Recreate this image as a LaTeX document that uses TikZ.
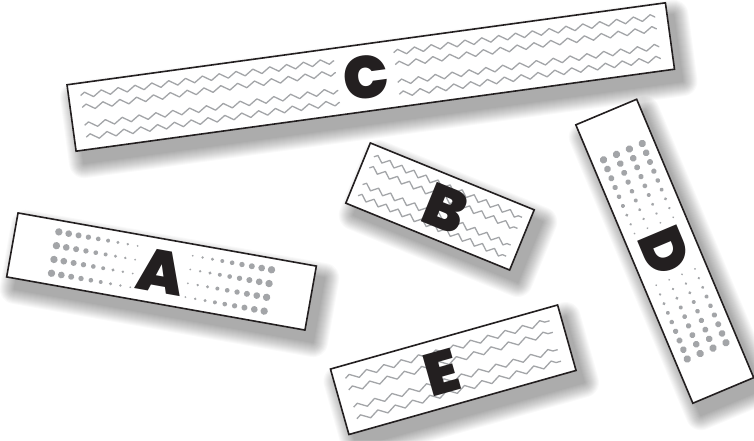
\documentclass[tikz,border=0pt]{standalone}
\usepackage{fontspec}
\newfontfamily\letterfont{Poppins Black}
\usetikzlibrary{decorations.pathmorphing}
\definecolor{inkgray}{HTML}{A3A5A8}
\definecolor{inkblack}{HTML}{231F20}
\tikzset{
  stripbox/.style={fill=white,draw=inkblack,line width=1.6pt},
  shadowlayer/.style={fill=black,opacity=.024},
  zigline/.style={draw=inkgray,line width=1.3pt,line join=round,decorate,
    decoration={zigzag,segment length=#1,amplitude=2.8pt}},
  letter/.style={font=\letterfont\fontsize{60}{60}\selectfont,text=inkblack,
    inner sep=0pt,transform shape}
}
% soft shadow and white strip: centre x, centre y, angle, length, height
\newcommand{\stripbase}[5]{%
  \begin{scope}[shift={(#1+8,#2-12)},rotate=#3]
    \foreach \k in {1,...,15}
      \fill[shadowlayer,rounded corners=\k pt] (-#4/2-\k,-#5/2-\k) rectangle (#4/2+\k,#5/2+\k);
  \end{scope}
  \path[stripbox,shift={(#1,#2)},rotate=#3] (-#4/2,-#5/2) rectangle (#4/2,#5/2);}
% halftone dots, large at both ends
\newcommand{\halftone}{%
  \foreach \i in {0,...,8} {
    \pgfmathsetmacro{\rad}{3.7-0.34*\i}
    \foreach \y in {21,7,-7,-21} {
      \fill[inkgray] (-108+10*\i,\y) circle (\rad);
      \fill[inkgray] (108-10*\i,\y) circle (\rad);
    }}}
\begin{document}
\begin{tikzpicture}[x=1pt,y=1pt]
    \useasboundingbox (0,0) rectangle (754,440);
    \fill[white] (0,0) rectangle (754,440);
    % strip C
    \stripbase{370.75}{363}{7.8}{604}{67}
    \begin{scope}[shift={(370.75,363)},rotate=7.8]
        \foreach \y in {21,9,-9,-21} {
            \draw[zigline=17pt] (-290,\y) -- (-34,\y);
            \draw[zigline=17pt] (26,\y) -- (290,\y);
        }
        \node[letter] (C) at (-5,0) {C};
    \end{scope}
    % strip B
    \stripbase{440}{233.5}{-22.2}{177}{65}
    \begin{scope}[shift={(440,233.5)},rotate=-22.2]
        \foreach \y in {21,9,-9,-21}
            \draw[zigline=13pt] (-80,\y) -- (80,\y);
        \node[letter] (B) at (6,0) {B};
    \end{scope}
    % strip A
    \stripbase{161.5}{168.5}{-10.1}{303}{65}
    \begin{scope}[shift={(161.5,168.5)},rotate=-10.1]
        \halftone
        \node[letter] (A) at (0,0) {A};
    \end{scope}
    % strip E
    \stripbase{453.25}{70.25}{15.75}{236}{68}
    \begin{scope}[shift={(453.25,70.25)},rotate=15.75]
        \foreach \y in {21,9,-9,-21}
            \draw[zigline=18pt] (-106,\y) -- (106,\y);
        \node[letter] (E) at (-12,0) {E};
    \end{scope}
    % strip D
    \stripbase{664.75}{188.75}{-67.2}{302}{66}
    \begin{scope}[shift={(664.75,188.75)},rotate=-67.2]
        \halftone
        \node[letter] (D) at (0,0) {D};
    \end{scope}
\end{tikzpicture}
\end{document}
